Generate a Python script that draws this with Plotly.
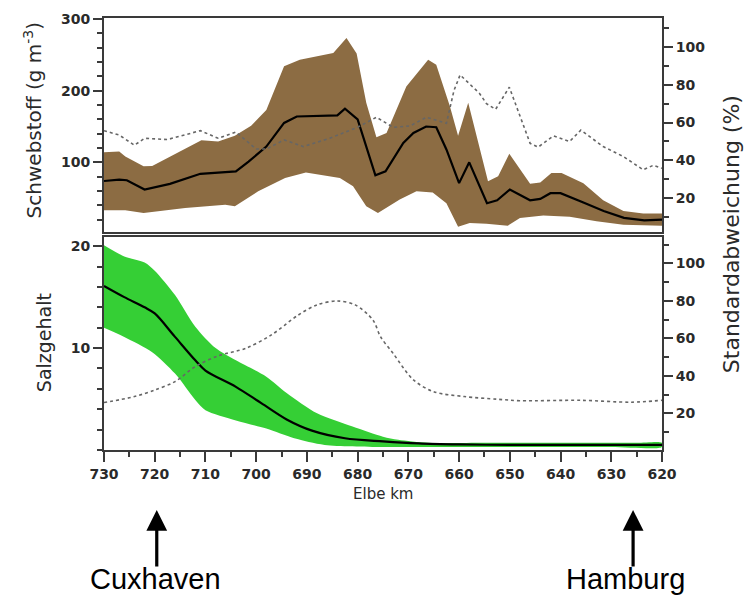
import plotly.graph_objects as go

# ---------------- Data ----------------
# Top panel: suspended matter (Schwebstoff, g m^-3) along Elbe km
spm_mean_km = [730, 727, 725.5, 722, 717, 711, 704, 701.5, 698, 694.5, 692, 684, 682.5, 680,
               676.5, 674.5, 671, 669, 666.5, 664.5, 662.5, 660, 658, 654.5, 652.5, 650,
               646, 644, 642, 640, 635.5, 631.5, 627.5, 623.5, 620]
spm_mean = [74, 76, 75, 62, 70, 84, 87.5, 101, 122, 155, 164, 165.5, 175, 160,
            82, 87.5, 127, 141, 150, 149, 118, 71, 100, 43, 47, 62,
            47, 49, 57, 57, 44, 32, 22.5, 19, 20]

spm_upper_km = [730, 727, 725.8, 722.2, 720.5, 710.8, 707.5, 704.2, 701, 698, 694.5, 691.4,
                684.8, 682.2, 680.2, 678.3, 676.3, 674.3, 670.4, 666.1, 664.5, 661.8, 660.2,
                658.2, 654.3, 652.3, 650.1, 646, 644, 641.8, 639.8, 635.5, 631.6, 627.6,
                623.7, 620]
spm_upper = [114, 115, 108, 94.5, 95, 131, 129, 137, 151, 173, 234, 243,
             252.6, 273.5, 252, 183, 135, 141, 206, 243, 236, 178, 137,
             183, 73.5, 80.5, 112, 70, 72, 85, 85, 71, 47, 32,
             28.5, 28.5]

spm_lower_km = [730, 725.8, 722.2, 714, 706.1, 704.2, 699.6, 694.3, 690.2, 683.5, 680.9,
                678.3, 676, 671.7, 668.4, 665.2, 662.5, 660.2, 657.9, 654.6, 650.4, 648,
                643.4, 638.2, 632.9, 627.6, 620]
spm_lower = [33, 33, 29.4, 36.4, 41, 38.6, 59.5, 78, 86, 78, 66.5,
             38.6, 29.4, 48, 59.5, 58, 43, 10, 15.5, 14.5, 11.7, 22.4,
             25.7, 24, 17.7, 13, 11.7]

spm_std_km = [730, 727, 724, 722, 717.5, 711, 707.5, 704, 700, 698, 694.5, 690.7, 685.5,
              680, 676.3, 673, 669.7, 666.4, 662.5, 661, 659.8, 656, 654.6, 652.8, 650.1,
              646, 644.4, 641.4, 638.2, 636, 631.6, 627.6, 623.7, 621.7, 620]
spm_std = [55.7, 53.4, 48, 51.7, 51, 55.7, 51.7, 55, 46, 46, 50.8, 47.3, 51.7,
           57.5, 62.8, 57.5, 58.2, 62.8, 59.6, 77, 85.2, 75.5, 70, 67, 78.7,
           49, 47, 53, 50, 56, 47.3, 42, 35, 37.4, 35.8]

# Bottom panel: salinity (Salzgehalt)
sal_mean_km = [730, 726, 722, 720, 716, 712, 710, 704, 699, 694, 689, 682.5, 675, 668, 660,
               650, 640, 630, 620]
sal_mean = [16.1, 15.0, 14.0, 13.4, 11.1, 8.8, 7.8, 6.2, 4.6, 3.0, 1.9, 1.15, 0.85, 0.65, 0.55,
            0.5, 0.5, 0.5, 0.5]

sal_upper_km = [730, 726, 722, 720, 716, 712, 708, 704, 698, 694, 688, 681, 675, 672, 666,
                655, 645, 635, 625, 620]
sal_upper = [20.1, 19.0, 18.4, 17.6, 15.2, 12.1, 10.0, 8.8, 7.2, 5.6, 3.6, 2.3, 1.3, 1.0, 0.7,
             0.7, 0.7, 0.7, 0.7, 0.7]

sal_lower_km = [730, 726, 720.5, 716, 712, 710, 704, 698, 692.5, 686.5, 675, 660, 645, 630, 620]
sal_lower = [12.0, 11.1, 9.6, 7.5, 4.9, 3.9, 2.9, 2.1, 1.15, 0.5, 0.3, 0.3, 0.3, 0.3, 0.3]

sal_std_km = [730, 724, 720, 716, 712, 707.5, 702, 697, 691.7, 688, 684, 680.5, 677,
              675.5, 673, 669, 665, 659, 652.5, 648, 636, 626, 620]
sal_std = [25.8, 29, 32.5, 37, 45, 50.7, 54.8, 61.9, 72.5, 77.9, 80, 77.9, 69.9,
           61, 52, 37.9, 31.6, 29, 27.6, 26.8, 27, 26, 27]

x_ticks = [730, 720, 710, 700, 690, 680, 670, 660, 650, 640, 630, 620]
spm_ticks = [100, 200, 300]
sal_ticks = [10, 20]
std_ticks = [20, 40, 60, 80, 100]

places = ["Cuxhaven", "Hamburg"]
place_km = [719.6, 625.7]
place_label_km = [719.9, 627.1]

# ---------------- Styling ----------------
BROWN = "#8c6c43"
GREEN = "#35cf35"
AXC = "#3a3a3a"
TXT = "#2a2a2a"
tickfont = dict(family="DejaVu Sans", size=14, color=TXT, weight="bold")

fig = go.Figure()

# Top panel band
fig.add_trace(go.Scatter(
    x=spm_upper_km + spm_lower_km[::-1], y=spm_upper + spm_lower[::-1],
    fill="toself", fillcolor=BROWN, line=dict(width=0), mode="lines",
    xaxis="x2", yaxis="y3", hoverinfo="skip", showlegend=False))
fig.add_trace(go.Scatter(
    x=spm_mean_km, y=spm_mean, mode="lines", line=dict(color="black", width=2.2),
    xaxis="x2", yaxis="y3", showlegend=False))
fig.add_trace(go.Scatter(
    x=spm_std_km, y=spm_std, mode="lines", line=dict(color="#666666", width=1.6, dash="dot"),
    xaxis="x2", yaxis="y4", showlegend=False))

# Bottom panel band
fig.add_trace(go.Scatter(
    x=sal_upper_km + sal_lower_km[::-1], y=sal_upper + sal_lower[::-1],
    fill="toself", fillcolor=GREEN, line=dict(width=0, shape="spline", smoothing=0.8), mode="lines",
    xaxis="x", yaxis="y", hoverinfo="skip", showlegend=False))
fig.add_trace(go.Scatter(
    x=sal_mean_km, y=sal_mean, mode="lines",
    line=dict(color="black", width=2.2, shape="spline", smoothing=0.9),
    xaxis="x", yaxis="y", showlegend=False))
fig.add_trace(go.Scatter(
    x=sal_std_km, y=sal_std, mode="lines",
    line=dict(color="#666666", width=1.6, dash="dot", shape="spline", smoothing=0.9),
    xaxis="x", yaxis="y2", showlegend=False))

axis_common = dict(showline=True, linecolor=AXC, linewidth=2, showgrid=False, zeroline=False)

fig.update_layout(
    width=748, height=596, autosize=False,
    margin=dict(l=104, r=86, t=18, b=146),
    paper_bgcolor="white", plot_bgcolor="white",
    xaxis=dict(**axis_common, domain=[0, 1], range=[730, 620], anchor="y",
               tickmode="array", tickvals=x_ticks, ticks="outside", ticklen=10,
               tickwidth=1.5, tickcolor=AXC, tickfont=tickfont, mirror=True,
               minor=dict(tick0=620, dtick=5, ticks="outside", ticklen=5, tickcolor=AXC, tickwidth=1.5)),
    xaxis2=dict(**axis_common, domain=[0, 1], range=[730, 620], anchor="y3",
                showticklabels=False, ticks="", mirror=True),
    yaxis=dict(**axis_common, domain=[0, 0.493], range=[0, 20.9], anchor="x",
               tickmode="array", tickvals=sal_ticks, ticks="outside", ticklen=9,
               tickwidth=1.5, tickcolor=AXC, tickfont=tickfont, mirror=True,
               minor=dict(tick0=0, dtick=2, ticks="outside", ticklen=5, tickcolor=AXC, tickwidth=1.5)),
    yaxis2=dict(**axis_common, overlaying="y", side="right", range=[0.5, 114.1], anchor="x",
                tickmode="array", tickvals=std_ticks, ticks="outside", ticklen=9,
                tickwidth=1.5, tickcolor=AXC, tickfont=tickfont,
                minor=dict(tick0=0, dtick=10, ticks="outside", ticklen=5, tickcolor=AXC, tickwidth=1.5)),
    yaxis3=dict(**axis_common, domain=[0.5046, 1], range=[2.8, 301.4], anchor="x2",
                tickmode="array", tickvals=spm_ticks, ticks="outside", ticklen=9,
                tickwidth=1.5, tickcolor=AXC, tickfont=tickfont, mirror=True,
                minor=dict(tick0=0, dtick=20, ticks="outside", ticklen=5, tickcolor=AXC, tickwidth=1.5)),
    yaxis4=dict(**axis_common, overlaying="y3", side="right", range=[2.1, 115.3], anchor="x2",
                tickmode="array", tickvals=std_ticks, ticks="outside", ticklen=9,
                tickwidth=1.5, tickcolor=AXC, tickfont=tickfont,
                minor=dict(tick0=0, dtick=10, ticks="outside", ticklen=5, tickcolor=AXC, tickwidth=1.5)),
)

annotations = [
    dict(text="Schwebstoff (g m<sup>-3</sup>)", xref="paper", yref="paper", x=-0.128, y=0.762,
         textangle=-90, showarrow=False, xanchor="center", yanchor="middle",
         font=dict(family="DejaVu Sans", size=20, color=TXT)),
    dict(text="Salzgehalt", xref="paper", yref="paper", x=-0.107, y=0.248,
         textangle=-90, showarrow=False, xanchor="center", yanchor="middle",
         font=dict(family="DejaVu Sans", size=19, color=TXT)),
    dict(text="Standardabweichung (%)", xref="paper", yref="paper", x=1.124, y=0.5,
         textangle=-90, showarrow=False, xanchor="center", yanchor="middle",
         font=dict(family="DejaVu Sans", size=22, color=TXT)),
    dict(text="Elbe km", xref="paper", yref="paper", x=0.5, y=-0.102,
         showarrow=False, xanchor="center", yanchor="middle",
         font=dict(family="DejaVu Sans", size=15, color=TXT)),
]
for name, km_arrow, km_lab in zip(places, place_km, place_label_km):
    annotations.append(dict(text="", xref="x", yref="paper", x=km_arrow, y=-0.139,
                            ax=0, ay=58, axref="pixel", ayref="pixel", showarrow=True,
                            arrowhead=2, arrowsize=1.3, arrowwidth=3.2, arrowcolor="black",
                            standoff=0))
    annotations.append(dict(text=name, xref="x", yref="paper", x=km_lab, y=-0.299,
                            showarrow=False, xanchor="center", yanchor="middle",
                            font=dict(family="Liberation Sans", size=29, color="black")))
fig.update_layout(annotations=annotations)

fig.write_html("out.html")
